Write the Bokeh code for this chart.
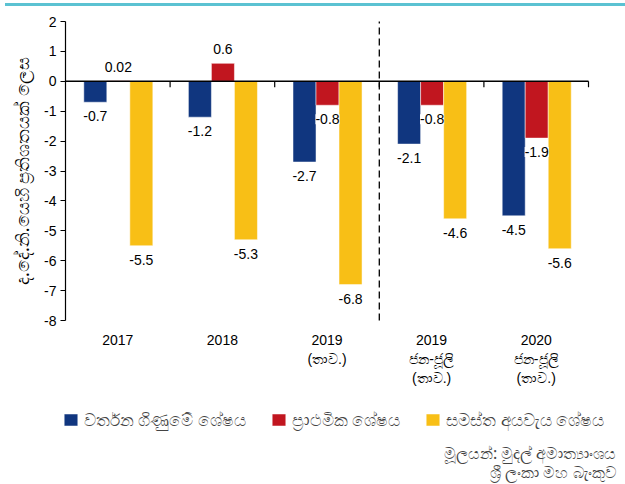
import math
from bokeh.plotting import figure
from bokeh.layouts import column
from bokeh.models import (Range1d, ColumnDataSource, LabelSet, Legend, LegendItem, Label,
                          FixedTicker, Div, LinearAxis)
from bokeh.core.properties import value
from bokeh.embed import file_html
from bokeh.resources import INLINE

# ---------------- data ----------------
categories = ["2017", "2018", "2019\n(තාව.)", "2019\nජන-ජූලි\n(තාව.)", "2020\nජන-ජූලි\n(තාව.)"]
current_account = [-0.7, -1.2, -2.7, -2.1, -4.5]
primary_balance = [0.02, 0.6, -0.8, -0.8, -1.9]
overall_balance = [-5.5, -5.3, -6.8, -4.6, -5.6]
value_labels_ca = ["-0.7", "-1.2", "-2.7", "-2.1", "-4.5"]
value_labels_pb = ["0.02", "0.6", "-0.8", "-0.8", "-1.9"]
value_labels_ob = ["-5.5", "-5.3", "-6.8", "-4.6", "-5.6"]
series_names = ["වර්තන ගිණුමේ ශේෂය", "ප්‍රාථමික ශේෂය", "සමස්ත අයවැය ශේෂය"]
y_ticks = [2, 1, 0, -1, -2, -3, -4, -5, -6, -7, -8]
y_tick_labels = ["2", "1", "0", "-1", "-2", "-3", "-4", "-5", "-6", "-7", "-8"]
y_axis_title = "ද.දේ.නි.යෙහි ප්‍රතිශතයක් ලෙස"
source_lines = ["මූලයන්: මුදල් අමාත්‍යාංශය", "ශ්‍රී ලංකා මහ බැංකුව"]

colors = ["#10367F", "#C1161F", "#F8BF16"]
FONT = "Liberation Sans"
SIN_FONT = "Noto Sans"
Y_MIN, Y_MAX = -8, 2
n = len(categories)

# ---------------- layout constants (pixels) ----------------
PW, PH = 625, 477          # figure size (below a 7px top rule)
PLOT_L, PLOT_R = 65, 588   # x pixel span of the category area
PLOT_T, PLOT_B = 14, 313   # y pixel span of the [-8, 2] axis inside the figure
ux = (PLOT_R - PLOT_L) / n
uy = (PLOT_B - PLOT_T) / (Y_MAX - Y_MIN)
x_range = Range1d(-PLOT_L / ux, n + (PW - PLOT_R) / ux)
y_range = Range1d(Y_MIN - (PH - PLOT_B) / uy, Y_MAX + PLOT_T / uy)

top_rule = Div(width=625, height=7, margin=0,
               text='<div style="position:absolute;top:3px;left:5px;width:620px;height:3px;'
                    'background:#5BC2D2"></div>')

p = figure(width=PW, height=PH, x_range=x_range, y_range=y_range,
           x_axis_location=None, y_axis_location=None,
           output_backend="svg", toolbar_location=None, min_border=0)
p.outline_line_color = None
p.xgrid.grid_line_color = None
p.ygrid.grid_line_color = None

# y axis at the left edge of the category area
yaxis = LinearAxis(fixed_location=0, bounds=(Y_MIN, Y_MAX), ticker=FixedTicker(ticks=y_ticks),
                   major_label_overrides={t: s for t, s in zip(y_ticks, y_tick_labels)})
yaxis.minor_tick_line_color = None
yaxis.major_tick_in = 0
yaxis.major_tick_out = 5
yaxis.axis_line_color = "black"
yaxis.axis_line_width = 1.2
yaxis.major_tick_line_color = "black"
yaxis.major_label_text_font = FONT
yaxis.major_label_text_font_size = "14px"
yaxis.major_label_text_color = "black"
yaxis.major_label_standoff = 4
p.add_layout(yaxis, "left")

# x axis: category labels only, just under the y-axis minimum
centers = [i + 0.5 for i in range(n)]
xaxis = LinearAxis(fixed_location=Y_MIN, ticker=FixedTicker(ticks=centers),
                   major_label_overrides={c: lab for c, lab in zip(centers, categories)})
xaxis.axis_line_color = None
xaxis.major_tick_line_color = None
xaxis.minor_tick_line_color = None
xaxis.major_label_text_font = FONT
xaxis.major_label_text_font_size = "14px"
xaxis.major_label_text_color = "black"
xaxis.major_label_standoff = 5
p.add_layout(xaxis, "below")

# y axis title (centered on the axis)
p.add_layout(Label(x=0, y=(Y_MIN + Y_MAX) / 2, x_offset=-44, text=y_axis_title,
                   angle=math.pi / 2, text_align="center", text_baseline="middle",
                   text_font=SIN_FONT, text_font_size="18px", text_color="black"))

series = [current_account, primary_balance, overall_balance]
labels = [value_labels_ca, value_labels_pb, value_labels_ob]
offsets = [-0.215, 0.005, 0.225]
renderers = []
for vals, labs, off, col in zip(series, labels, offsets, colors):
    src = ColumnDataSource(dict(x=[c + off for c in centers], val=vals, lab=labs,
                                yoff=[14 if v >= 0 else -14 for v in vals]))
    r = p.vbar(x="x", top="val", bottom=0, width=0.22, source=src,
               fill_color=col, line_color="white", line_width=0.5)
    renderers.append(r)
    p.add_layout(LabelSet(x="x", y="val", text="lab", y_offset="yoff", source=src,
                          text_align="center", text_baseline="middle",
                          text_font=value(FONT), text_font_size="14px", text_color="black",
                          background_fill_color="white"))

# zero line and category boundary ticks
p.segment(x0=[0], x1=[n], y0=[0], y1=[0], line_color="black", line_width=1.5)
bounds_x = list(range(1, n + 1))
p.segment(x0=bounds_x, x1=bounds_x, y0=[0] * n, y1=[-0.2] * n, line_color="black", line_width=1.2)
# dashed divider between annual and half-year data
p.segment(x0=[3], x1=[3], y0=[Y_MIN], y1=[Y_MAX], line_color="black", line_width=1.3,
          line_dash="7 4")

# legend
legend = Legend(items=[LegendItem(label=nm, renderers=[r]) for nm, r in zip(series_names, renderers)],
                location=(PLOT_L - 3, 53), orientation="horizontal", border_line_color=None,
                background_fill_alpha=0, padding=0, margin=0, spacing=24,
                glyph_width=17, glyph_height=15, label_standoff=5,
                label_text_font=SIN_FONT, label_text_font_size="17px")
p.add_layout(legend)

# source lines
for txt, py in zip(source_lines, [445, 464]):
    p.add_layout(Label(x=n, y=Y_MAX - (py - PLOT_T) / uy, x_offset=28, text=txt,
                       text_align="right", text_baseline="middle", text_font=SIN_FONT,
                       text_font_size="16px"))

page = column(top_rule, p, spacing=0)
open("out.html", "w").write(file_html(page, INLINE))
